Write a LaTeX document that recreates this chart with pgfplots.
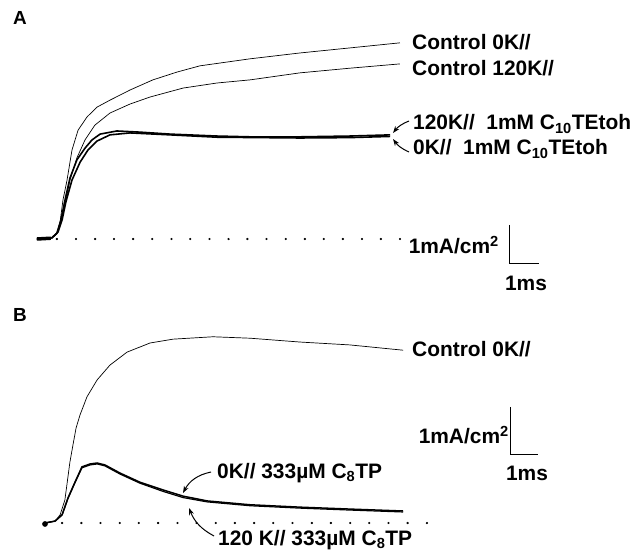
\documentclass[border=0pt]{standalone}
\usepackage{pgfplots}
\pgfplotsset{compat=1.18}
\usepackage{fontspec}
\setmainfont{Liberation Sans}
\usetikzlibrary{arrows.meta}

% traces in ms and mA/cm^2, baseline at 0
\pgfplotsset{trace/.style={black, line width=0.7pt, mark=none},
  basedots/.style={only marks, mark=*, mark size=0.9pt, black},
  scalebar/.style={black, line width=1pt, mark=none}}

\begin{document}
\begin{tikzpicture}
\useasboundingbox (0,0) rectangle (641bp,-557bp);
\tikzset{lab/.style={anchor=west, inner sep=0pt, font=\bfseries\fontsize{21}{25}\selectfont},
  arr/.style={-{Stealth[length=7pt,width=5pt]}, line width=1pt}}

% ---------- A ----------
\begin{axis}[hide axis, scale only axis, clip=false,
  x=29bp, y=39bp, xmin=-1.5, xmax=20.5, ymin=-1.5, ymax=6,
  at={(1.5bp,-297.5bp)}, anchor=south west]
  \addplot[trace] coordinates {
    (-0.28,0) (0,0) (0.24,0.03) (0.41,0.15) (0.52,0.44) (0.62,1.00)
    (0.76,1.51) (0.93,2.28) (1.14,2.79) (1.45,3.13) (1.79,3.38)
    (2.24,3.56) (2.93,3.82) (3.72,4.08) (4.55,4.28) (5.34,4.44)
    (7.07,4.62) (8.79,4.77) (10.52,4.90) (12.24,5.03)};  % control 0K
  \addplot[trace] coordinates {
    (-0.28,0) (0.24,0.03) (0.41,0.13) (0.55,0.44) (0.69,0.87)
    (0.86,1.51) (1.10,2.08) (1.38,2.54) (1.72,2.92) (2.24,3.23)
    (2.93,3.46) (3.62,3.64) (4.76,3.87) (5.93,4.00) (7.07,4.08)
    (8.79,4.26) (10.52,4.38) (12.24,4.49)};  % control 120K
  \addplot[trace, line width=1.6pt] coordinates {
    (-0.28,0) (0.24,0.03) (0.41,0.15) (0.55,0.49) (0.69,1.00)
    (0.86,1.56) (1.10,2.03) (1.38,2.33) (1.62,2.54) (1.90,2.69)
    (2.48,2.77) (3.28,2.74) (4.31,2.69) (5.93,2.64) (7.07,2.62)
    (8.79,2.62) (10.52,2.64) (11.90,2.67)};  % 120K drug
  \addplot[trace, line width=1.6pt] coordinates {
    (-0.28,0) (0.24,0.03) (0.45,0.18) (0.59,0.49) (0.72,0.95)
    (0.93,1.51) (1.21,1.97) (1.48,2.28) (1.79,2.51) (2.24,2.67)
    (2.93,2.72) (4.31,2.67) (5.93,2.61) (8.79,2.59) (10.52,2.60)
    (11.90,2.63)};  % 0K drug
  \addplot[trace, line width=3.5pt] coordinates {(-0.28,0) (0.2,0.02)};
  \addplot[basedots] coordinates {
    (0.41,0) (1.07,0) (1.73,0) (2.38,0) (3.04,0) (3.70,0) (4.36,0)
    (5.01,0) (5.67,0) (6.33,0) (6.98,0) (7.64,0) (8.30,0) (8.96,0)
    (9.61,0) (10.27,0) (10.93,0) (11.58,0) (12.24,0)};
  \addplot[scalebar] coordinates {(16.03,0.36) (16.03,-0.64) (17.03,-0.64)};
\end{axis}

% ---------- B ----------
\begin{axis}[hide axis, scale only axis, clip=false,
  x=28bp, y=48bp, xmin=-1.5, xmax=21, ymin=-0.6, ymax=5,
  at={(3bp,-551.8bp)}, anchor=south west]
  \addplot[trace] coordinates {
    (0,0) (0.36,0.04) (0.54,0.17) (0.71,0.48) (0.89,1.27) (1.00,1.63)
    (1.11,1.98) (1.25,2.25) (1.50,2.63) (1.86,2.98) (2.32,3.29)
    (2.93,3.56) (3.75,3.75) (4.57,3.83) (6.00,3.88) (7.32,3.85)
    (9.11,3.77) (10.89,3.71) (12.79,3.60)};  % control 0K
  \addplot[trace, line width=1.5pt] coordinates {
    (0,0) (0.36,0.04) (0.61,0.17) (0.82,0.52) (1.07,0.85) (1.32,1.17)
    (1.61,1.23) (1.86,1.25) (2.14,1.21) (2.68,1.04) (3.39,0.85)
    (4.21,0.69) (4.93,0.56) (5.79,0.46) (7.32,0.38) (9.11,0.33)
    (10.89,0.29) (12.79,0.25)};  % 0K drug
  \addplot[trace, line width=1.2pt] coordinates {
    (0,0) (0.36,0.04) (0.61,0.17) (0.82,0.51) (1.07,0.84) (1.32,1.15)
    (1.61,1.21) (1.86,1.23) (2.14,1.19) (2.68,1.02) (3.39,0.83)
    (4.21,0.66) (4.93,0.53) (5.79,0.44) (7.32,0.36) (9.11,0.31)
    (10.89,0.27) (12.79,0.23)};  % 120K drug
  \addplot[only marks, mark=*, mark size=2.6pt, black] coordinates {(0,-0.02)};
  \addplot[basedots] coordinates {
    (0.61,0) (1.30,0) (1.98,0) (2.67,0) (3.35,0) (4.04,0) (4.73,0)
    (5.41,0) (6.10,0) (6.78,0) (7.47,0) (8.15,0) (8.84,0) (9.53,0)
    (10.21,0) (10.90,0) (11.58,0) (12.27,0) (12.95,0) (13.64,0)};
  \addplot[scalebar] coordinates {(16.61,2.42) (16.61,1.42) (17.61,1.42)};
\end{axis}

% ---------- labels ----------
\node[anchor=center, font=\bfseries\fontsize{19}{22}\selectfont] at (20bp,-18bp) {A};
\node[anchor=center, font=\bfseries\fontsize{19}{22}\selectfont] at (20bp,-315bp) {B};

\node[lab] at (412bp,-42bp) {Control 0K//};
\node[lab] at (412bp,-68bp) {Control 120K//};
\node[lab] at (413bp,-124bp) {120K//\ \ 1mM C\textsubscript{10}TEtoh};
\node[lab] at (413bp,-149bp) {0K//\ \ 1mM C\textsubscript{10}TEtoh};
\node[lab, anchor=east] at (499bp,-245bp) {1mA/cm\textsuperscript{2}};
\node[lab, anchor=center] at (526bp,-283bp) {1ms};
\draw[arr] (409bp,-121bp) to[bend right=15] (393bp,-133bp);
\draw[arr] (409bp,-152bp) to[bend left=15] (393bp,-139bp);

\node[lab] at (412bp,-349bp) {Control 0K//};
\node[lab, anchor=east] at (509bp,-435bp) {1mA/cm\textsuperscript{2}};
\node[lab, anchor=center] at (527bp,-473bp) {1ms};
\node[lab] at (217bp,-473bp) {0K//\ 333µM C\textsubscript{8}TP};
\node[lab] at (218bp,-540bp) {120 K//\ 333µM C\textsubscript{8}TP};
\draw[arr] (211bp,-472bp) to[bend right=25] (183bp,-493bp);
\draw[arr] (214bp,-536bp) to[bend left=20] (189bp,-508bp);
\end{tikzpicture}
\end{document}
